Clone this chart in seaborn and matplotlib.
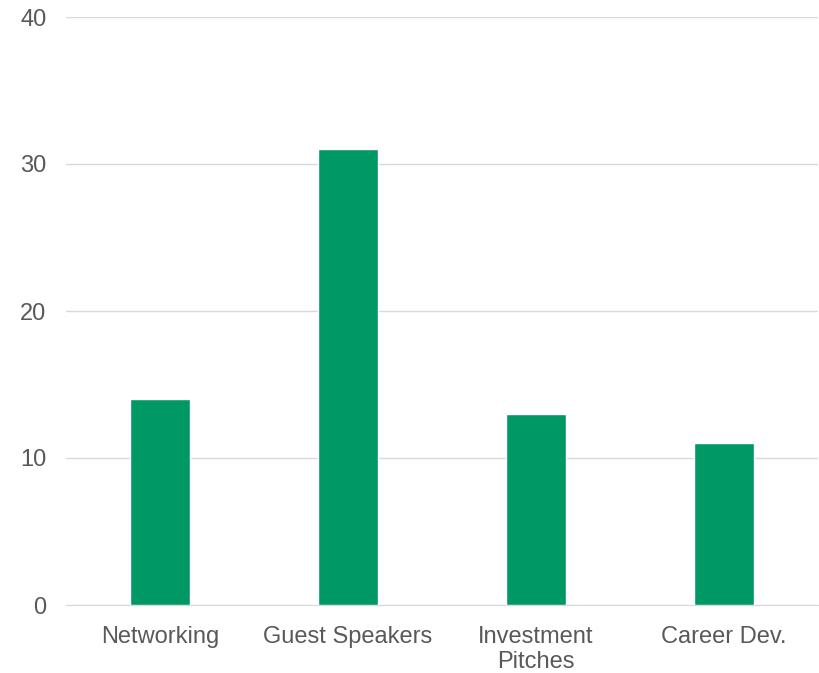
import matplotlib
matplotlib.use("Agg")
import matplotlib.pyplot as plt
import seaborn as sns
import pandas as pd

# Datos
categories = ["Networking", "Guest Speakers", "Investment\nPitches", "Career Dev."]
values = [14, 31, 13, 11]
y_ticks = [0, 10, 20, 30, 40]

df = pd.DataFrame({"category": categories, "value": values})

sns.set_style("white")
plt.rcParams["font.family"] = ["Liberation Sans", "DejaVu Sans"]

fig = plt.figure(figsize=(8.19, 6.73), dpi=100)
ax = fig.add_axes([66 / 819, 1 - 605 / 673, 752 / 819, 588 / 673])

sns.barplot(data=df, x="category", y="value", color="#009966", width=0.32,
            saturation=1, ax=ax, zorder=3)

ax.set_ylim(0, 40)
ax.set_xlim(-0.5, 3.5)
ax.set_yticks(y_ticks)
ax.yaxis.grid(True, color="#d9d9d9", linewidth=1, zorder=0)
ax.set_xlabel("")
ax.set_ylabel("")
for s in ["top", "right", "left"]:
    ax.spines[s].set_visible(False)
ax.spines["bottom"].set_color("#d9d9d9")
ax.tick_params(axis="both", length=0, labelsize=17, labelcolor="#595959")
ax.tick_params(axis="y", pad=14)
ax.tick_params(axis="x", pad=15)

fig.savefig("out.png", dpi=100)
